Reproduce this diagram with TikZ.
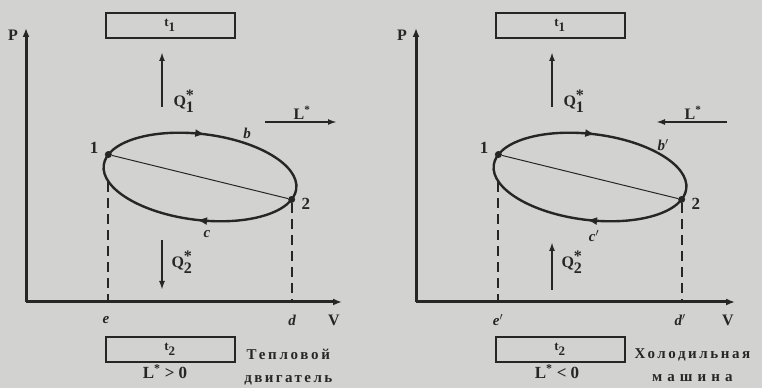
\documentclass[tikz,border=0pt]{standalone}
\usepackage{fontspec}
\setmainfont{Liberation Serif}
\usepackage{tikz}
\usepackage{xcolor}
\usetikzlibrary{arrows.meta, positioning, calc, decorations.markings}
\definecolor{ink}{RGB}{38,38,38}
\definecolor{paper}{RGB}{210,211,209}
\newcommand{\fsz}[1]{\fontsize{#1}{#1}\selectfont\bfseries}
\tikzset{
	axis/.style={line width=3pt, draw=ink, -{Latex[length=9pt,width=7pt]}},
	cyc/.style={line width=2.4pt, draw=ink},
	chord/.style={line width=1pt, draw=ink},
	state/.style={circle, fill=ink, inner sep=0pt, minimum size=7pt},
	dashline/.style={line width=2pt, draw=ink, dash pattern=on 10pt off 6pt},
	reservoir/.style={draw=ink, line width=2pt, minimum width=129pt, minimum height=25pt, inner sep=0pt, font=\fsz{13}},
	flow/.style={line width=1.8pt, draw=ink, -{Latex[length=9pt,width=6pt]}},
	lbl/.style={text=ink, inner sep=1pt, font=\fsz{16}},
	% little letters on the curve and the axis
	curvelbl/.style={text=ink, inner sep=1pt, font=\fsz{15}\itshape},
}
\begin{document}
\begin{tikzpicture}[x=1pt, y=1pt, text=ink]
	\useasboundingbox[fill=paper] (0,0) rectangle (762,388);
	% ---- heat engine
	\coordinate (O) at (26,86);
	\draw[axis] (O) -- (26,360) coordinate (Ptop);
	\draw[axis] (O) -- (342,86) coordinate (Vend);
	\node[lbl] (P) at (13,353) {P};
	\node[lbl] (V) at (334,68) {V};
	\node[reservoir] (hot) at (170,362.5) {$\textbf{t}_{\textbf{1}}$};
	\node[reservoir] (cold) at (170,38.5) {$\textbf{t}_{\textbf{2}}$};
	\node[lbl, font=\fsz{17}, below=0pt of cold, xshift=-5pt] (work) {L\textsuperscript{*} > 0};
	\node[lbl, right=10pt of cold, yshift=-5pt, font=\fsz{15}\addfontfeature{LetterSpace=18}] (tep) {Тепловой};
	\node[lbl, below=23pt of tep.base, anchor=base, font=\fsz{15}\addfontfeature{LetterSpace=16}] (dvig) {двигатель};
	\begin{scope}[shift={(200,211)}, rotate=-7]
		\draw[cyc, postaction={decorate}, decoration={markings,
			mark=at position 0.25 with {\arrowreversed{Latex[length=10pt,width=8pt]}},
			mark=at position 0.755 with {\arrowreversed{Latex[length=10pt,width=8pt]}}}]
			(0,0) ellipse (97 and 43);
		\node[state] (p1) at (165:97 and 43) {};
		\node[state] (p2) at (345:97 and 43) {};
	\end{scope}
	\draw[chord] (p1) -- (p2);
	\node[lbl, font=\fsz{17}, left=5pt of p1, yshift=7pt] (n1) {1};
	\node[lbl, font=\fsz{17}, right=5pt of p2, yshift=-4pt] (n2) {2};
	\node[curvelbl] (b) at (247,255) {b};
	\node[curvelbl] (c) at (207,154) {c};
	\node[curvelbl] (e) at (106,68) {e};
	\node[curvelbl] (d) at (292,68) {d};
	\draw[dashline, shorten <=24pt] (p1) -- (p1 |- O);
	\draw[dashline] (p2) -- (p2 |- O);
	\coordinate (qa) at (162,281);
	\coordinate (qb) at (162,336);
	\draw[flow] (qa) -- (qb);
	\node[lbl] (q1) at (184,287) {Q$^{\textbf{*}}_{\textbf{1}}$};
	\coordinate (qc) at (162,148);
	\coordinate (qd) at (162,98);
	\draw[flow] (qc) -- (qd);
	\node[lbl] (q2) at (182,126) {Q$^{\textbf{*}}_{\textbf{2}}$};
	\coordinate (la) at (265,266);
	\coordinate (lb) at (337,266);
	\draw[flow] (la) -- (lb);
	\node[lbl] (l) at (302,275) {L\textsuperscript{*}};
	% ---- refrigerator
	\begin{scope}[xshift=390pt]
		\coordinate (O') at (26,86);
		\draw[axis] (O') -- (26,360) coordinate (Ptop');
		\draw[axis] (O') -- (345,86) coordinate (Vend');
		\node[lbl] (P') at (12,353) {P};
		\node[lbl] (V') at (338,68) {V};
		\node[reservoir] (hot') at (170,362.5) {$\textbf{t}_{\textbf{1}}$};
		\node[reservoir] (cold') at (170,38.5) {$\textbf{t}_{\textbf{2}}$};
		\node[lbl, font=\fsz{17}, below=0pt of cold', xshift=-3pt] (work') {L\textsuperscript{*} < 0};
		\node[lbl, right=8pt of cold', yshift=-5pt, font=\fsz{15}\addfontfeature{LetterSpace=17}] (hol) {Холодильная};
		\node[lbl, below=23pt of hol.base, anchor=base, font=\fsz{15}\addfontfeature{LetterSpace=34}] (mash) {машина};
		\begin{scope}[shift={(200,211)}, rotate=-7]
			\draw[cyc, postaction={decorate}, decoration={markings,
				mark=at position 0.25 with {\arrowreversed{Latex[length=10pt,width=8pt]}},
				mark=at position 0.755 with {\arrowreversed{Latex[length=10pt,width=8pt]}}}]
				(0,0) ellipse (97 and 43);
			\node[state] (r1) at (165:97 and 43) {};
			\node[state] (r2) at (345:97 and 43) {};
		\end{scope}
		\draw[chord] (r1) -- (r2);
		\node[lbl, font=\fsz{17}, left=5pt of r1, yshift=7pt] (m1) {1};
		\node[lbl, font=\fsz{17}, right=5pt of r2, yshift=-4pt] (m2) {2};
		\node[curvelbl] (b') at (273,243) {b$'$};
		\node[curvelbl] (c') at (204,152) {c$'$};
		\node[curvelbl] (e') at (108,68) {e$'$};
		\node[curvelbl] (d') at (290,68) {d$'$};
		\draw[dashline, shorten <=24pt] (r1) -- (r1 |- O');
		\draw[dashline] (r2) -- (r2 |- O');
		\coordinate (qa') at (162,281);
		\coordinate (qb') at (162,336);
		\draw[flow] (qa') -- (qb');
		\node[lbl] (q1') at (184,287) {Q$^{\textbf{*}}_{\textbf{1}}$};
		\coordinate (qc') at (162,98);
		\coordinate (qd') at (162,146);
		\draw[flow] (qc') -- (qd');
		\node[lbl] (q2') at (182,126) {Q$^{\textbf{*}}_{\textbf{2}}$};
		\coordinate (la') at (337,266);
		\coordinate (lb') at (266,266);
		\draw[flow] (la') -- (lb');
		\node[lbl] (l') at (303,275) {L\textsuperscript{*}};
	\end{scope}
\end{tikzpicture}
\end{document}
